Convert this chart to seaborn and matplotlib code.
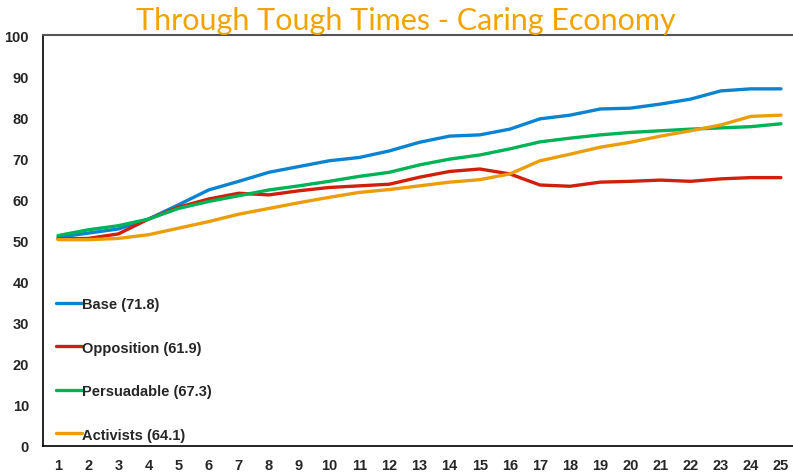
import pandas as pd
import matplotlib.pyplot as plt
import seaborn as sns

# Values
weeks = list(range(1, 26))
base = [50.8, 51.8, 52.8, 55.2, 58.7, 62.3, 64.4, 66.6, 68.0, 69.4, 70.2, 71.8, 73.9,
        75.4, 75.7, 77.1, 79.6, 80.5, 82.0, 82.2, 83.2, 84.4, 86.4, 86.9, 86.9]
opposition = [50.4, 50.5, 51.6, 55.2, 58.1, 60.1, 61.5, 61.1, 62.1, 62.9, 63.3, 63.7, 65.4,
              66.8, 67.4, 66.2, 63.5, 63.2, 64.2, 64.4, 64.7, 64.4, 65.0, 65.3, 65.3]
persuadable = [51.2, 52.6, 53.6, 55.2, 57.8, 59.5, 60.9, 62.3, 63.3, 64.4, 65.6, 66.6, 68.4,
               69.8, 70.8, 72.3, 74.0, 74.9, 75.7, 76.3, 76.7, 77.1, 77.4, 77.7, 78.4]
activists = [50.2, 50.2, 50.5, 51.4, 53.0, 54.6, 56.4, 57.8, 59.2, 60.5, 61.7, 62.4, 63.3,
             64.2, 64.8, 66.2, 69.4, 71.0, 72.7, 73.9, 75.4, 76.7, 78.1, 80.2, 80.5]
labels = ["Base (71.8)", "Opposition (61.9)", "Persuadable (67.3)", "Activists (64.1)"]
colors = ["#0A84D0", "#D11F0B", "#00B356", "#EC9D0C"]

df = pd.concat([
    pd.DataFrame({"week": weeks, "score": vals, "group": lab})
    for vals, lab in zip([base, opposition, persuadable, activists], labels)
])

sns.set_style("white")
plt.rcParams["font.family"] = ["Liberation Sans", "DejaVu Sans"]

fig = plt.figure(figsize=(7.93, 4.77), dpi=100)
ax = fig.add_axes([0.0542, 0.0629, 0.9458, 0.8616])

sns.lineplot(data=df, x="week", y="score", hue="group", palette=colors,
             linewidth=2.4, ax=ax)

ax.set_xlim(0.5, 25.4)
ax.set_ylim(0, 100)
ax.set_xticks(weeks)
ax.set_yticks(range(0, 101, 10))
ax.set_xlabel("")
ax.set_ylabel("")

for s in ["left", "bottom"]:
    ax.spines[s].set_color("black")
    ax.spines[s].set_linewidth(1.2)
ax.spines["right"].set_visible(False)
ax.spines["top"].set_color("#555555")
ax.spines["top"].set_linewidth(1.5)

ax.tick_params(axis="y", length=4, width=1, color="black", direction="out",
               pad=6, labelsize=10.5)
ax.tick_params(axis="x", length=0, pad=9, labelsize=10.5)
for t in ax.get_xticklabels() + ax.get_yticklabels():
    t.set_fontweight("bold")

leg = ax.legend(loc="lower left", bbox_to_anchor=(0.0, -0.021), frameon=False,
                handlelength=1.75, handletextpad=0.05, labelspacing=2.02,
                prop={"weight": "bold", "size": 10.5})
for line in leg.get_lines():
    line.set_linewidth(2.4)

fig.suptitle("Through Tough Times - Caring Economy", x=0.512, y=0.985, fontsize=22,
             color="#F2A300", fontweight="normal", family=["Lato", "DejaVu Sans"])

fig.savefig("out.png", dpi=100)
